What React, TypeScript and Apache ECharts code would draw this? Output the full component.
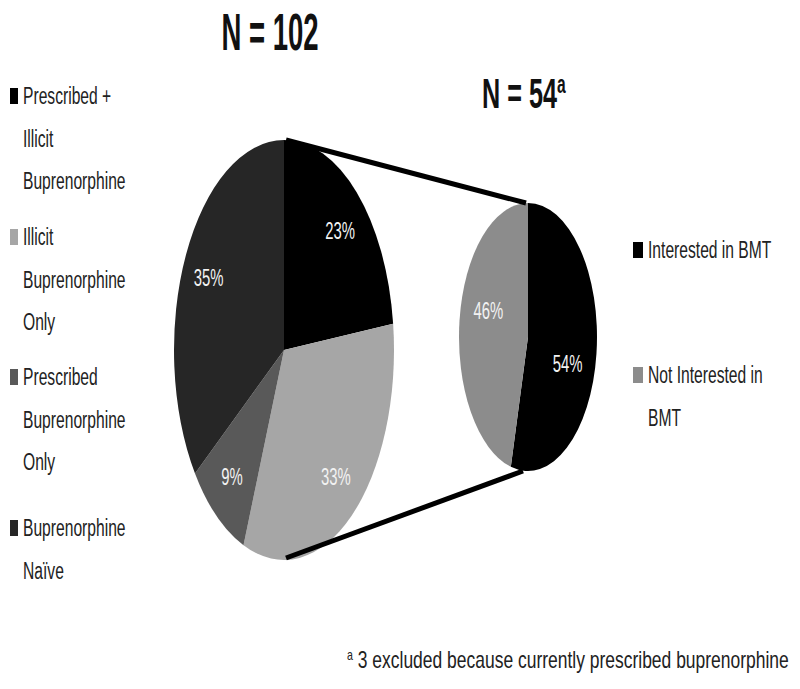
import React, { useEffect, useRef } from "react";
import * as echarts from "echarts";

const bigLegendLines: string[][] = [
  ["Prescribed +", "Illicit", "Buprenorphine"],
  ["Illicit", "Buprenorphine", "Only"],
  ["Prescribed", "Buprenorphine", "Only"],
  ["Buprenorphine", "Naïve"],
];
const bigCategories = [
  "Prescribed + Illicit Buprenorphine",
  "Illicit Buprenorphine Only",
  "Prescribed Buprenorphine Only",
  "Buprenorphine Naïve",
];
const bigValues = [23, 33, 9, 35];
const bigColors = ["#000000", "#a6a6a6", "#595959", "#262626"];

const smallCategories = ["Interested in BMT", "Not Interested in BMT"];
const smallLegendLines: string[][] = [["Interested in BMT"], ["Not Interested in", "BMT"]];
const smallValues = [54, 46];
const smallColors = ["#000000", "#8c8c8c"];

const FONT = "'Liberation Sans', Arial, sans-serif";

type PieGeom = { cx: number; cy: number; rx: number; ry: number; lrx: number; lry: number };
const BIG: PieGeom = { cx: 284, cy: 350, rx: 110, ry: 210, lrx: 0.77, lry: 0.76 };
const SMALL: PieGeom = { cx: 528, cy: 337, rx: 69, ry: 134, lrx: 0.58, lry: 1.6 };

function ellipsePie(name: string, values: number[], colors: string[], g: PieGeom) {
  const total = values.reduce((a, b) => a + b, 0);
  const cum: number[] = [0];
  values.forEach((v, i) => cum.push(cum[i] + v));
  return {
    type: "custom",
    name,
    coordinateSystem: "none",
    data: values.map((v) => [v]),
    renderItem: (params: any, api: any) => {
      const i = params.dataIndex;
      const v = api.value(0);
      const a0 = -Math.PI / 2 + (2 * Math.PI * cum[i]) / total;
      const a1 = -Math.PI / 2 + (2 * Math.PI * (cum[i] + v)) / total;
      const mid = (a0 + a1) / 2;
      return {
        type: "group",
        children: [
          {
            type: "sector",
            x: g.cx,
            y: g.cy,
            scaleY: g.ry / g.rx,
            shape: { cx: 0, cy: 0, r: g.rx, r0: 0, startAngle: a0, endAngle: a1, clockwise: true },
            style: { fill: colors[i] },
          },
          {
            type: "text",
            x: g.cx + g.lrx * g.rx * Math.cos(mid),
            y: g.cy + g.lry * g.ry * Math.sin(mid) * (g.rx / g.rx),
            scaleX: 0.62,
            style: {
              text: Math.round((v / total) * 100) + "%",
              fill: "#f2f2f2",
              font: `24px ${FONT}`,
              align: "center",
              verticalAlign: "middle",
            },
          },
        ],
      };
    },
  };
}

function legendGraphics(lines: string[][], colors: string[], x: number, ys: number[], mw: number) {
  const els: any[] = [];
  lines.forEach((ls, i) => {
    els.push({
      type: "rect",
      shape: { x: x, y: ys[i] - 8, width: mw, height: 16 },
      style: { fill: colors[i] },
    });
    ls.forEach((t, j) => {
      els.push({
        type: "text",
        x: x + mw + 5,
        y: ys[i] + j * 42.5,
        scaleX: 0.68,
        style: { text: t, fill: "#222", font: `23px ${FONT}`, verticalAlign: "middle" },
      });
    });
  });
  return els;
}

export default function App() {
  const ref = useRef<HTMLDivElement>(null);
  useEffect(() => {
    const chart = echarts.init(ref.current!, null, { renderer: "svg" });
    const graphics: any[] = [
      {
        type: "text",
        x: 270,
        y: 33,
        scaleX: 0.54,
        style: { text: "N = 102", fill: "#111", font: `bold 51px ${FONT}`, align: "center", verticalAlign: "middle" },
      },
      {
        type: "text",
        x: 482,
        y: 93,
        scaleX: 0.6,
        style: {
          text: "{n|N = 54}{s|a}",
          align: "left",
          verticalAlign: "middle",
          rich: {
            n: { font: `bold 42px ${FONT}`, fill: "#111", verticalAlign: "bottom" },
            s: { font: `bold 26px ${FONT}`, fill: "#111", verticalAlign: "top", padding: [0, 0, 14, 0] },
          },
        },
      },
      {
        type: "line",
        shape: { x1: BIG.cx + 2, y1: BIG.cy - BIG.ry, x2: SMALL.cx - 2, y2: SMALL.cy - SMALL.ry },
        style: { stroke: "#000", lineWidth: 5 },
        z: 10,
      },
      {
        type: "line",
        shape: { x1: BIG.cx + 2, y1: BIG.cy + BIG.ry - 2, x2: SMALL.cx - 5, y2: SMALL.cy + SMALL.ry },
        style: { stroke: "#000", lineWidth: 5 },
        z: 10,
      },
      ...legendGraphics(bigLegendLines, bigColors, 10, [96, 237, 377, 528], 8),
      ...legendGraphics(smallLegendLines, smallColors, 633, [250, 375], 10),
      {
        type: "text",
        x: 347,
        y: 660,
        scaleX: 0.76,
        style: {
          text: "{s|a}{t| 3 excluded because currently prescribed buprenorphine}",
          verticalAlign: "middle",
          rich: {
            s: { font: `14px ${FONT}`, fill: "#222", verticalAlign: "top", padding: [0, 0, 10, 0] },
            t: { font: `23px ${FONT}`, fill: "#222", verticalAlign: "bottom" },
          },
        },
      },
    ];
    chart.setOption({
      animation: false,
      backgroundColor: "#ffffff",
      series: [
        ellipsePie("N = 102", bigValues, bigColors, BIG),
        ellipsePie("N = 54", smallValues, smallColors, SMALL),
      ],
      graphic: graphics,
    });
    void bigCategories;
    void smallCategories;
    return () => chart.dispose();
  }, []);
  return <div ref={ref} style={{ position: "fixed", left: 0, top: 0, width: 800, height: 689 }} />;
}
